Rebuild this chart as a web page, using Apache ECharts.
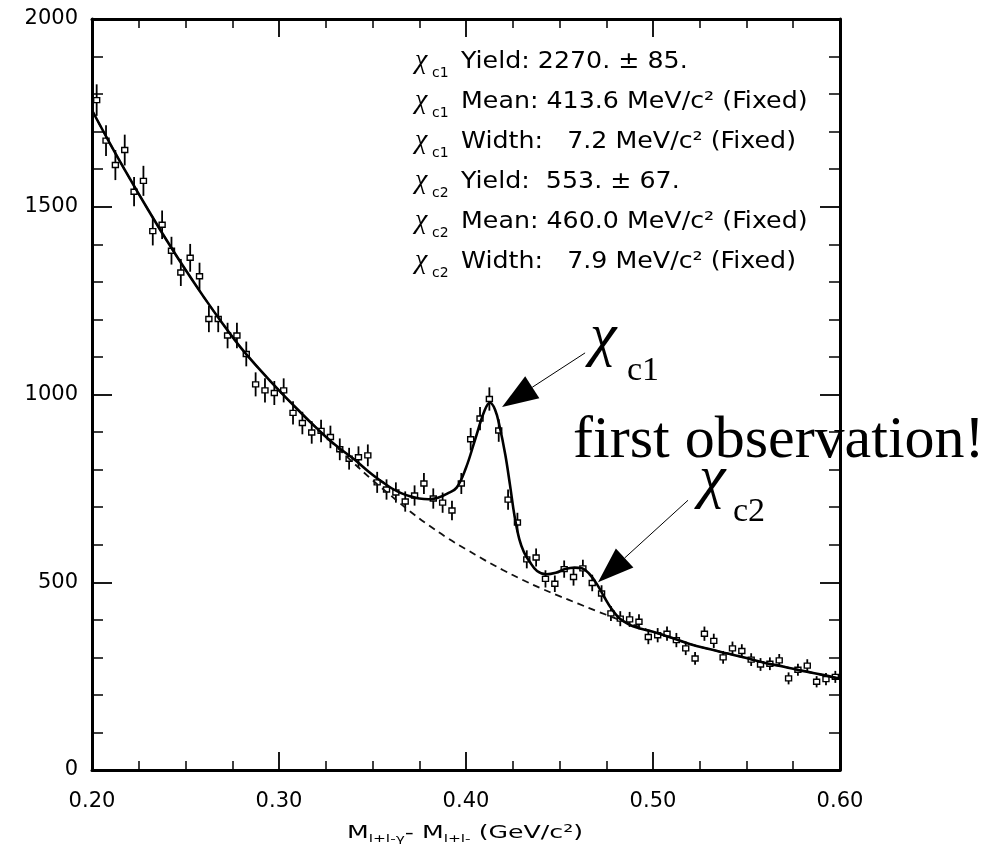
<!DOCTYPE html>
<html><head><meta charset="utf-8">
<script src="https://cdn.jsdelivr.net/npm/echarts@6.0.0/dist/echarts.min.js"></script>
<style>html,body{margin:0;padding:0;background:#fff}#c{width:1004px;height:859px}</style>
</head><body><div id="c"></div><script>
// ---- data ----
const binCenters = [
 0.2025,0.2075,0.2125,0.2175,0.2225,0.2275,0.2325,0.2375,0.2425,0.2475,
 0.2525,0.2575,0.2625,0.2675,0.2725,0.2775,0.2825,0.2875,0.2925,0.2975,
 0.3025,0.3075,0.3125,0.3175,0.3225,0.3275,0.3325,0.3375,0.3425,0.3475,
 0.3525,0.3575,0.3625,0.3675,0.3725,0.3775,0.3825,0.3875,0.3925,0.3975,
 0.4025,0.4075,0.4125,0.4175,0.4225,0.4275,0.4325,0.4375,0.4425,0.4475,
 0.4525,0.4575,0.4625,0.4675,0.4725,0.4775,0.4825,0.4875,0.4925,0.4975,
 0.5025,0.5075,0.5125,0.5175,0.5225,0.5275,0.5325,0.5375,0.5425,0.5475,
 0.5525,0.5575,0.5625,0.5675,0.5725,0.5775,0.5825,0.5875,0.5925,0.5975];
const counts = [
 1784,1676,1611,1651,1540,1569,1435,1452,1383,1325,
 1364,1315,1201,1201,1157,1157,1108,1027,1011,1004,
 1011,951,924,899,903,887,854,829,833,838,
 766,747,739,715,731,763,723,712,691,763,
 881,936,988,904,720,659,561,566,509,496,
 535,514,537,498,470,417,403,401,395,354,
 359,363,346,324,297,363,344,300,324,317,
 294,281,283,292,244,267,278,235,242,248];
const errors = [
 42,41,40,41,39,40,38,38,37,36,
 37,36,35,35,34,34,33,32,32,32,
 32,31,30,30,30,30,29,29,29,29,
 28,27,27,27,27,28,27,27,26,28,
 30,31,31,30,27,26,24,24,23,22,
 23,23,23,22,22,20,20,20,20,19,
 19,19,19,18,17,19,19,17,18,18,
 17,17,17,17,16,16,17,15,16,16];
const fitX = [0.200,0.210,0.220,0.230,0.240,0.250,0.260,0.270,0.280,0.290,0.300,0.310,0.320,0.330,0.340,
 0.350,0.355,0.360,0.365,0.370,0.375,0.380,0.385,0.390,0.395,0.400,0.405,
 0.410,0.4128,0.4155,0.418,0.421,0.4235,0.426,0.4285,0.431,0.434,0.438,0.443,0.448,0.453,0.458,0.462,0.466,0.470,0.474,0.478,0.482,0.487,0.493,
 0.500,0.510,0.520,0.530,0.540,0.550,0.560,0.570,0.580,0.590,0.600];
const fitY = [1757,1665,1577,1492,1410,1332,1258,1188,1122,1065,1011,960,911,866,828,
 786,768,751,738,729,723,721,725,736,752,805,882,
 958,978,960,915,840,760,675,615,580,555,530,521,525,535,539,537,522,495,460,428,404,388,377,
 368,352,335,322,310,298,285,275,264,254,243];
const bgX = [0.20,0.21,0.22,0.23,0.24,0.25,0.26,0.27,0.28,0.29,0.30,0.31,0.32,0.33,0.34,0.35,0.36,0.37,0.38,0.39,
 0.40,0.41,0.42,0.43,0.44,0.45,0.46,0.47,0.48,0.49,0.50,0.51,0.52,0.53,0.54,0.55,0.56,0.57,0.58,0.59,0.60];
const bgY = [1757,1665,1577,1492,1410,1332,1258,1188,1122,1065,1011,960,911,864,817,772,730,689,652,618,
 588,559,532,507,484,463,443,423,404,386,368,352,335,322,310,298,285,275,264,254,243];
const xTicks = [0.2, 0.6, 0.1];
const yTicks = [0, 2000, 500];
const statsLabels = ['c1','c1','c1','c2','c2','c2'];
const statsTexts = ['Yield: 2270. \u00b1 85.','Mean: 413.6 MeV/c\u00b2 (Fixed)','Width:   7.2 MeV/c\u00b2 (Fixed)',
 'Yield:  553. \u00b1 67.','Mean: 460.0 MeV/c\u00b2 (Fixed)','Width:   7.9 MeV/c\u00b2 (Fixed)'];
const xTitle = '{m|M}{s|l+l-\u03b3}{m|- M}{s|l+l-}{m| (GeV/c\u00b2)}';
const arrowTips = [[0.4193, 967], [0.4706, 500]];

// ---- chart ----
const chart = echarts.init(document.getElementById('c'), null, {renderer:'canvas'});
const pts = binCenters.map((x,i)=>[x, counts[i], errors[i]]);
const fitData = fitX.map((x,i)=>[x, fitY[i]]);
const bgData = bgX.map((x,i)=>[x, bgY[i]]);
const SANS = 'DejaVu Sans';
const SERIF = 'Liberation Serif';

function xAxisCfg(pos, labels){
  return {type:'value', min:xTicks[0], max:xTicks[1], interval:xTicks[2], position:pos,
    axisLine:{show:true, onZero:false, lineStyle:{color:'#000', width:3}},
    axisTick:{show:true, inside:true, length:18, lineStyle:{color:'#000', width:1.8}},
    minorTick:{show:true, splitNumber:4, length:9, lineStyle:{color:'#000', width:1.5}},
    splitLine:{show:false}, minorSplitLine:{show:false},
    axisLabel:{show:labels, showMinLabel:true, showMaxLabel:true, margin:21, color:'#000', fontFamily:SANS, fontSize:21,
      formatter:v=>v.toFixed(2)}};
}
function yAxisCfg(pos, labels){
  return {type:'value', min:yTicks[0], max:yTicks[1], interval:yTicks[2], position:pos,
    axisLine:{show:true, onZero:false, lineStyle:{color:'#000', width:3}},
    axisTick:{show:true, inside:true, length:20, lineStyle:{color:'#000', width:1.8}},
    minorTick:{show:true, splitNumber:5, length:11, lineStyle:{color:'#000', width:1.5}},
    splitLine:{show:false}, minorSplitLine:{show:false},
    axisLabel:{show:labels, showMinLabel:true, showMaxLabel:true, margin:14, color:'#000', fontFamily:SANS, fontSize:21,
      formatter:v=>String(v)}};
}

chart.setOption({
  animation:false,
  backgroundColor:'#fff',
  grid:{left:92, right:164, top:19, bottom:89, outerBoundsMode:'none'},
  xAxis:[xAxisCfg('bottom', true), xAxisCfg('top', false)],
  yAxis:[yAxisCfg('left', true), yAxisCfg('right', false)],
  series:[
    {type:'custom', name:'data', xAxisIndex:0, yAxisIndex:0, z:2, data:pts, encode:{x:0, y:1},
     renderItem:function(params, api){
       const x = api.value(0), y = api.value(1), e = api.value(2);
       const p = api.coord([x, y]);
       const t = api.coord([x, y + e]);
       const b = api.coord([x, y - e]);
       return {type:'group', children:[
         {type:'line', shape:{x1:p[0], y1:t[1], x2:p[0], y2:b[1]}, style:{stroke:'#000', lineWidth:1.8}},
         {type:'rect', shape:{x:p[0]-3, y:p[1]-2.5, width:6, height:5}, style:{fill:'#fff', stroke:'#000', lineWidth:1.4}}
       ]};
     }},
    {type:'line', name:'background', data:bgData, smooth:0.4, showSymbol:false, z:3,
     lineStyle:{color:'#111', width:1.8, type:[7,5]}},
    {type:'line', name:'fit', data:fitData, smooth:0.4, showSymbol:false, z:4,
     lineStyle:{color:'#000', width:2.6}}
  ]
});

// ---- annotations ----
const g = [];
statsTexts.forEach((t, i) => {
  const L = 61 + 40 * i;
  g.push({type:'text', x:415, y:L - 0.6, style:{text:'\u03c7', fontFamily:SERIF, fontStyle:'italic', fontSize:28, fill:'#000', verticalAlign:'middle'}});
  g.push({type:'text', x:432, y:L + 12, style:{text:statsLabels[i], fontFamily:SANS, fontSize:14, fill:'#000', verticalAlign:'middle'}});
  g.push({type:'text', x:461, y:L + 1, scaleX:1.1, style:{text:t, fontFamily:SANS, fontSize:23, fill:'#000', verticalAlign:'middle'}});
});
// axis title
g.push({type:'text', x:465, y:833, scaleX:1.4, style:{text:xTitle, align:'center', verticalAlign:'middle', rich:{
  m:{fontFamily:SANS, fontSize:18, fill:'#000'},
  s:{fontFamily:SANS, fontSize:11, fill:'#000', padding:[12,0,0,0]}}}});
// big labels
g.push({type:'text', x:590, y:338, style:{text:'\u03c7', fontFamily:SERIF, fontStyle:'italic', fontSize:60, fill:'#000', verticalAlign:'middle'}});
g.push({type:'text', x:627, y:371, style:{text:'c1', fontFamily:SERIF, fontSize:34, fill:'#000', verticalAlign:'middle'}});
g.push({type:'text', x:573, y:441, z:100, style:{text:'first observation!', fontFamily:SERIF, fontSize:60, fill:'#000', verticalAlign:'middle'}});
g.push({type:'text', x:699, y:480, style:{text:'\u03c7', fontFamily:SERIF, fontStyle:'italic', fontSize:60, fill:'#000', verticalAlign:'middle'}});
g.push({type:'text', x:733, y:512, style:{text:'c2', fontFamily:SERIF, fontSize:34, fill:'#000', verticalAlign:'middle'}});
// arrows
const tailOffsets = [[83,-54],[90,-82]];
arrowTips.forEach((tp, i) => {
  const tip = chart.convertToPixel({xAxisIndex:0, yAxisIndex:0}, tp);
  const tail = [tip[0] + tailOffsets[i][0], tip[1] + tailOffsets[i][1]];
  const dx = tail[0]-tip[0], dy = tail[1]-tip[1], len = Math.hypot(dx, dy);
  const ux = dx/len, uy = dy/len, px = -uy, py = ux;
  const hl = 36, hw = 13;
  const base = [tip[0]+ux*hl, tip[1]+uy*hl];
  g.push({type:'line', shape:{x1:base[0], y1:base[1], x2:tail[0], y2:tail[1]}, style:{stroke:'#000', lineWidth:1}});
  g.push({type:'polygon', shape:{points:[tip, [base[0]+px*hw, base[1]+py*hw], [base[0]-px*hw, base[1]-py*hw]]}, style:{fill:'#000'}});
});
chart.setOption({graphic:g});
</script></body></html>
